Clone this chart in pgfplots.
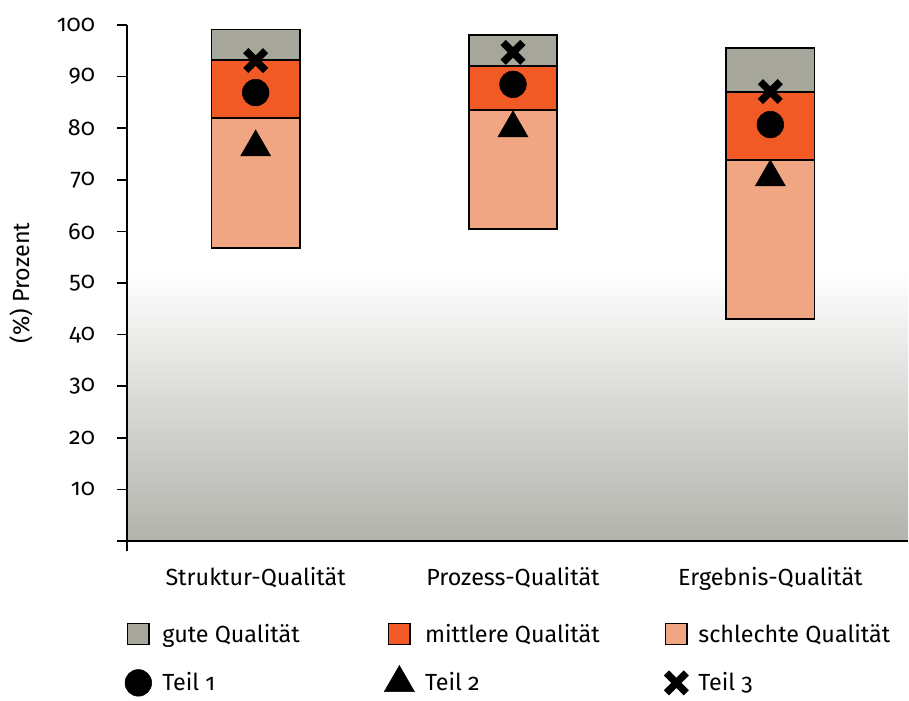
\documentclass[border=0pt]{standalone}
\usepackage{fontspec}
\setmainfont{Fira Sans}[Numbers=OldStyle]
\usepackage{pgfplots}
\pgfplotsset{compat=1.18}
\definecolor{gute}{HTML}{A6A69A}
\definecolor{mittel}{HTML}{F15A24}
\definecolor{schlecht}{HTML}{F0A682}
\definecolor{bggray}{HTML}{B1B3AC}
\pgfplotsset{
  common/.style={scale only axis, width=585.75pt, height=387pt,
    xmin=-0.5, xmax=2.535, ymin=0, ymax=100},
  sq/.style={legend image code/.code={\draw[##1] (0pt,-8pt) rectangle (16pt,8pt);}},
  mk/.style={legend image code/.code={\draw[##1] plot coordinates {(8pt,0pt)};}},
}
\begin{document}
\begin{tikzpicture}
\begin{axis}[common, hide axis]
\fill[top color=white, bottom color=bggray] (axis cs:-0.5,0) rectangle (axis cs:2.535,52.5);
\end{axis}
\begin{axis}[common,
  font=\fontsize{17.5}{20}\selectfont,
  axis x line*=bottom, axis y line*=left,
  axis line style={line width=1.5pt},
  tick style={line width=1.3pt, black},
  tick align=outside, major tick length=7.5pt,
  ytick={0,10,20,30,40,50,60,70,80,90,100},
  yticklabels={,10,20,30,40,50,60,70,80,90,100},
  yticklabel style={xshift=-13pt},
  xtick={-0.5}, xticklabels={},
  extra x ticks={0,1,2},
  extra x tick labels={Struktur-Qualität,Prozess-Qualität,Ergebnis-Qualität},
  extra x tick style={major tick length=0pt, xticklabel style={yshift=-16pt}},
  ylabel={(\%) Prozent},
  ylabel style={at={(axis description cs:-0.135,0.5)}, anchor=center},
  ybar stacked, bar width=0.344,
  legend columns=3,
  legend cell align=left,
  legend style={draw=none, fill=none, at={(-0.008,-0.15)}, anchor=north west,
    font=\fontsize{17.5}{20}\selectfont, row sep=14pt,
    /tikz/every odd column/.append style={column sep=6pt},
    /tikz/every even column/.append style={column sep=0pt}},
]
\addlegendimage{sq, fill=gute, draw=black, line width=1pt}
\addlegendentry{\makebox[164.5pt][l]{gute Qualität}}
\addlegendimage{sq, fill=mittel, draw=black, line width=1pt}
\addlegendentry{\makebox[178pt][l]{mittlere Qualität}}
\addlegendimage{sq, fill=schlecht, draw=black, line width=1pt}
\addlegendentry{schlechte Qualität}
\addlegendimage{mk, only marks, mark=*, mark size=10pt, black}
\addlegendentry{Teil 1}
\addlegendimage{mk, only marks, mark=triangle*, mark size=13pt, black}
\addlegendentry{Teil 2}
\addlegendimage{mk, only marks, mark=x, mark size=10.5pt, black, line width=5.5pt}
\addlegendentry{Teil 3}
% invisible base
\addplot[draw=none, fill=none, forget plot] coordinates {(0,56.8) (1,60.5) (2,43.0)};
% schlechte
\addplot[fill=schlecht, draw=black, line width=1.2pt, forget plot] coordinates {(0,25.2) (1,23.0) (2,30.8)};
% mittlere
\addplot[fill=mittel, draw=black, line width=1.2pt, forget plot] coordinates {(0,11.2) (1,8.6) (2,13.2)};
% gute
\addplot[fill=gute, draw=black, line width=1.2pt, forget plot] coordinates {(0,5.9) (1,6.0) (2,8.5)};
\end{axis}
\begin{axis}[common, hide axis, clip=false]
\addplot[only marks, mark=*, mark size=10pt, black] coordinates {(0,86.9) (1,88.5) (2,80.7)};
\addplot[only marks, mark=triangle*, mark size=13pt, black] coordinates {(0,76.3) (1,80.0) (2,70.5)};
\addplot[only marks, mark=x, mark size=10.5pt, black, line width=5.5pt] coordinates {(0,93.1) (1,94.7) (2,87.1)};
\end{axis}
\pgfresetboundingbox
\path (-95.25pt,-119.25pt) rectangle (586.5pt,405.75pt);
\end{tikzpicture}
\end{document}
